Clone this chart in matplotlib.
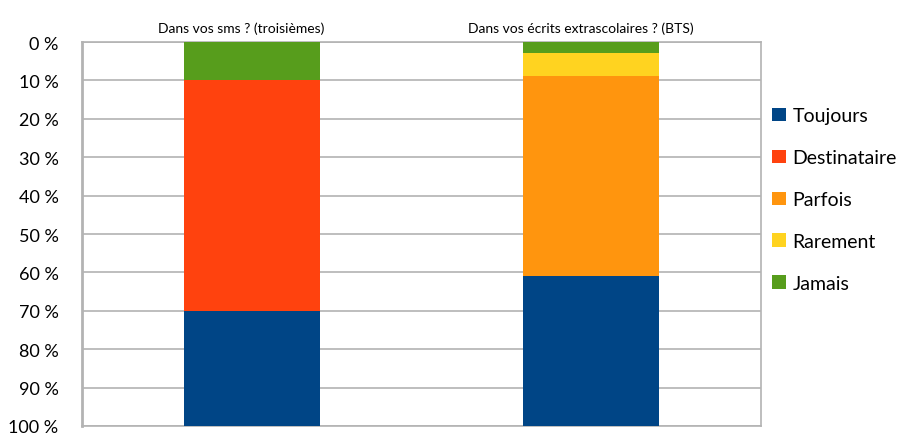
import matplotlib.pyplot as plt
import numpy as np

plt.rcParams['font.family'] = ['Lato', 'DejaVu Sans']

# data (percent of answers per group)
categories = ['Dans vos sms ? (troisièmes)', 'Dans vos écrits extrascolaires ? (BTS)']
series = ['Toujours', 'Destinataire', 'Parfois', 'Rarement', 'Jamais']
toujours = [30.0, 39.0]
destinataire = [60.0, 0.0]
parfois = [0.0, 52.2]
rarement = [0.0, 5.9]
jamais = [10.0, 2.9]
colors = ['#004586', '#ff420e', '#ff950e', '#ffd320', '#579d1c']
yticks = [0, 10, 20, 30, 40, 50, 60, 70, 80, 90, 100]

fig = plt.figure(figsize=(9, 4.35), dpi=100)
ax = fig.add_axes([0.0911, 0.0184, 0.7545, 0.8827])

x = np.arange(len(categories))
values = [toujours, destinataire, parfois, rarement, jamais]

# stack from the top (0 %) downward: Jamais first, Toujours last
bottom = np.zeros(len(categories))
handles = {}
for name, vals, col in reversed(list(zip(series, values, colors))):
    b = ax.bar(x, vals, 0.4, bottom=bottom, color=col, zorder=3)
    handles[name] = b
    bottom += np.array(vals)

ax.set_xlim(-0.5, 1.5)
ax.set_ylim(100, 0)
ax.set_yticks(yticks)
ax.set_yticklabels([f'{v} %' for v in yticks], fontsize=13)
ax.yaxis.grid(True, color='#b3b3b3', linewidth=1.2, zorder=0)
ax.tick_params(axis='y', length=0, pad=17)

ax.xaxis.tick_top()
ax.set_xticks(x - 0.03)
ax.set_xticklabels(categories, fontsize=10)
ax.tick_params(axis='x', length=0, pad=6)

for s in ax.spines.values():
    s.set_color('#b3b3b3')
    s.set_linewidth(1.2)
ax.spines['left'].set_linewidth(2)

ax.legend([handles[n] for n in series], series, loc='upper left',
          bbox_to_anchor=(1.005, 0.85), frameon=False, fontsize=14,
          handlelength=0.7, handleheight=0.7, handletextpad=0.35,
          labelspacing=1.28, borderaxespad=0)

fig.savefig('out.png', dpi=100)
